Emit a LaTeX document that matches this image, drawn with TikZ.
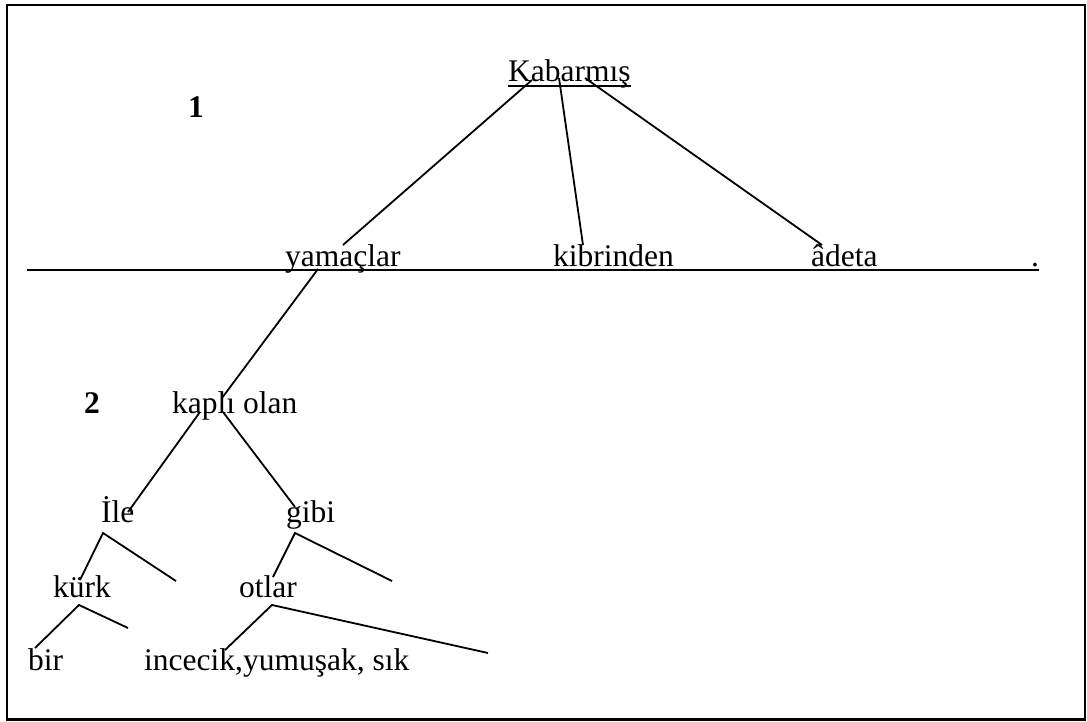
\documentclass[tikz,border=0pt]{standalone}
\usepackage{fontspec}
\setmainfont{Liberation Serif}
\begin{document}
\begin{tikzpicture}[x=1pt,y=-1pt,
  word/.style={anchor=base west,inner sep=0pt,font=\fontsize{31.5}{36}\selectfont},
  num/.style={anchor=base west,inner sep=0pt,font=\fontsize{31.5}{36}\selectfont\bfseries},
  link/.style={line width=1.8pt},
  rule/.style={line width=2.2pt}]
\useasboundingbox (0,0) rectangle (1087,722);
\draw[line width=2.2pt] (7,5) rectangle (1085,719.5);
% words
\node[word] (kab) at (508,82) {Kabarmış};
\node[num] (n1) at (188,118) {1};
\node[word] (yam) at (285,266) {yamaçlar};
\node[word] (kib) at (553,266) {kibrinden};
\node[word] (ade) at (811,266) {âdeta};
\node[word] (dot) at (1031,266) {.};
\node[num] (n2) at (84,413) {2};
\node[word] (kap) at (172,413) {kaplı olan};
\node[word] (ile) at (101,522) {İle};
\node[word] (gib) at (286,522) {gibi};
\node[word] (kur) at (53,597) {kürk};
\node[word] (otl) at (239,597) {otlar};
\node[word] (bir) at (28,670) {bir};
\node[word] (inc) at (144,670) {incecik,yumuşak, sık};
% underline and main rule
\draw[rule] ([yshift=-4pt]kab.base west) -- ([yshift=-4pt]kab.base east);
\coordinate (ruleL) at (27,270);
\coordinate (ruleR) at (1039,270);
\draw[rule] (ruleL) -- (ruleR);
% connector points
\coordinate (k1) at (532,80);
\coordinate (k2) at (559,78);
\coordinate (k3) at (585,78);
\coordinate (y1) at (343,245);
\coordinate (b1) at (583,245);
\coordinate (d1) at (822,245);
\coordinate (y2) at (318,269);
\coordinate (o1) at (222,398);
\coordinate (o2) at (200,412);
\coordinate (o3) at (223,412);
\coordinate (i1) at (128,512);
\coordinate (g1) at (295,507);
\coordinate (ia) at (103,533);
\coordinate (ib) at (80,580);
\coordinate (ic) at (176,581);
\coordinate (ga) at (295,533);
\coordinate (gb) at (273,577);
\coordinate (gc) at (392,581);
\coordinate (ka) at (79,605);
\coordinate (kb) at (35,648);
\coordinate (kc) at (128,628);
\coordinate (ta) at (272,605);
\coordinate (tb) at (225,650);
\coordinate (tc) at (488,653);
\draw[link] (k1) -- (y1);
\draw[link] (k2) -- (b1);
\draw[link] (k3) -- (d1);
\draw[link] (y2) -- (o1);
\draw[link] (o2) -- (i1);
\draw[link] (o3) -- (g1);
\draw[link] (ib) -- (ia) -- (ic);
\draw[link] (gb) -- (ga) -- (gc);
\draw[link] (kb) -- (ka) -- (kc);
\draw[link] (tb) -- (ta) -- (tc);
\end{tikzpicture}
\end{document}
